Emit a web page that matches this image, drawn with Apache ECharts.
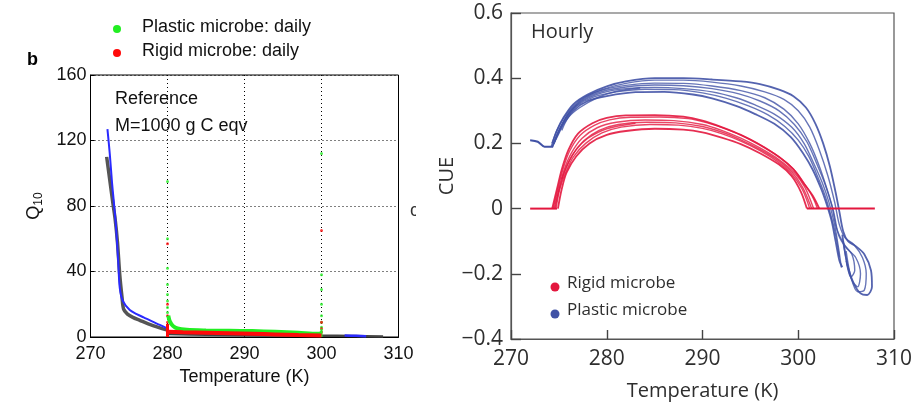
<!DOCTYPE html>
<html>
<head>
<meta charset="utf-8">
<script src="https://cdn.jsdelivr.net/npm/echarts@6/dist/echarts.min.js"></script>
<style>
  html, body { margin: 0; padding: 0; background: #fff; }
  #chart { width: 912px; height: 403px; }
</style>
</head>
<body>
<div id="chart"></div>
<script>
// ---- panel b : Q10 vs temperature (daily) ----
var tempTicks = [270, 280, 290, 300, 310];
var q10Ticks = [0, 40, 80, 120, 160];

var grayQ10 = [[272.1,110],[272.5,96],[272.9,82],[273.2,72],[273.5,58],[273.8,38],[274.1,24],[274.3,17],[274.8,14],[275.5,12],[276.4,10.2],[277.5,8],[279,5.6],[280,4.2]];
var blueQ10 = [[272.2,127],[272.5,112],[272.8,94],[273,84],[273.3,68],[273.6,46],[273.8,30],[274.2,22],[275.1,16.5],[276,14],[276.9,12],[278,9.5],[279,7.4],[279.9,5.4]];
var grayFlat = [[280,1.8],[285,1.4],[290,1.1],[295,0.9],[300,0.8],[304,0.6],[308,0.3]];
var blueFlat = [[303,0.9],[304.5,0.7],[305.8,0.5]];
var greenBand = [[280.1,13],[280.3,9.5],[280.7,6.8],[281.3,5.2],[282.5,4.4],[285,4],[288,3.8],[291,3.6],[294,3.2],[297,2.6],[299.5,2],[300,2.4]];
var redBand = [[280,3.2],[282,2.9],[285,2.6],[288,2.3],[291,2],[294,1.6],[297,1.2],[300,0.9]];
var greenSpikes = [[280,95],[280,60],[280,42],[280,32],[280,26],[280,22],[280,18],[280,15],[300,112],[300,38],[300,29],[300,20],[300,13],[300,9],[300,6]];
var redSpikes = [[280,57],[280,20],[280,13],[280,9],[280,6],[300,65],[300,9],[300,5],[300,3]];
var redStems = [[280,0],[280,8]];
var greenStems = [[300,0],[300,5]];

// ---- panel c : CUE vs temperature (hourly) ----
var cueTicks = [-0.4, -0.2, 0, 0.2, 0.4, 0.6];

var redFlatLeft = [[272,0],[274.8,0]];
var redFlatRight = [[300.9,0],[308,0]];
var redCurveA = [[274.3,0],[274.8,0.06],[275.3,0.12],[276,0.18],[277,0.23],[278.5,0.262],[280,0.278],[282,0.286],[285,0.287],[288,0.282],[290,0.27],[292,0.25],[294,0.226],[296,0.195],[298,0.158],[299.5,0.12],[300.5,0.08],[301.5,0.04],[302.2,0]];
var redCurveA2 = [[274.4,0],[274.9,0.06],[275.4,0.118],[276.1,0.175],[277.2,0.224],[278.7,0.255],[280.3,0.272],[282.5,0.28],[285.5,0.281],[288.5,0.276],[290.5,0.263],[292.5,0.244],[294.5,0.219],[296.5,0.188],[298.3,0.152],[299.7,0.115],[300.7,0.074],[301.6,0.03],[302,0]];
var redCurveB = [[274.5,0],[275,0.06],[275.5,0.115],[276.3,0.17],[277.4,0.215],[279,0.248],[281,0.265],[284,0.272],[287,0.27],[290,0.258],[292,0.24],[294,0.216],[296,0.186],[298,0.15],[299.6,0.11],[300.7,0.065],[301.6,0]];
var redCurveB2 = [[274.6,0],[275.05,0.06],[275.6,0.112],[276.4,0.164],[277.6,0.208],[279.2,0.24],[281.2,0.258],[284.2,0.265],[287.2,0.263],[290,0.252],[292,0.235],[294,0.211],[296,0.182],[297.9,0.148],[299.4,0.11],[300.5,0.063],[301.4,0]];
var redCurveC = [[274.7,0],[275.1,0.06],[275.7,0.11],[276.5,0.158],[277.8,0.2],[279.5,0.232],[281.5,0.25],[284.5,0.258],[287.5,0.256],[290,0.246],[292,0.23],[294,0.207],[296,0.178],[297.8,0.145],[299.2,0.11],[300.4,0.06],[301.2,0]];
var redCurveD = [[274.9,0],[275.3,0.06],[275.8,0.11],[276.8,0.16],[278.2,0.2],[280,0.226],[282,0.238],[285,0.245],[288,0.242],[290,0.234],[292,0.218],[294,0.198],[296,0.17],[298,0.135],[299.3,0.1],[300.3,0.05],[300.9,0]];
var redHook = [[275.3,0.09],[275.8,0.13],[276.8,0.18],[278,0.215],[280,0.245],[283,0.262]];

var blueStart = [[272,0.21],[272.8,0.205],[273.5,0.19],[274.4,0.19]];
var blueCurveA = [[274.3,0.19],[274.8,0.22],[275.5,0.26],[276.5,0.3],[278,0.33],[280,0.345],[283,0.357],[286,0.358],[289,0.35],[291,0.338],[293.5,0.315],[295.5,0.29],[297.5,0.26],[299.2,0.22],[300.5,0.17],[301.5,0.12],[302.4,0.06],[303,0.01],[303.5,-0.04],[303.9,-0.1],[304.3,-0.16],[304.6,-0.18]];
var blueCurveA2 = [[274.35,0.19],[274.9,0.23],[275.7,0.275],[276.9,0.315],[278.6,0.342],[281,0.358],[284,0.366],[287,0.365],[290,0.355],[292.5,0.338],[294.8,0.315],[296.8,0.288],[298.6,0.252],[300,0.21],[301.1,0.16],[302,0.1],[302.8,0.04],[303.4,-0.02],[303.9,-0.08],[304.3,-0.15]];
var blueCurveB = [[274.4,0.195],[275,0.24],[276,0.29],[277.5,0.33],[279.5,0.355],[282,0.368],[285,0.372],[288,0.368],[291,0.358],[293.5,0.34],[295.5,0.318],[297.5,0.29],[299.3,0.25],[300.6,0.2],[301.6,0.14],[302.5,0.08],[303.2,0.02],[303.8,-0.05],[304.2,-0.12],[304.5,-0.18]];
var blueCurveB2 = [[274.45,0.2],[275.1,0.245],[276.1,0.295],[277.6,0.335],[279.6,0.36],[282,0.373],[285,0.379],[288,0.377],[291,0.368],[293.8,0.352],[296,0.33],[298,0.3],[299.6,0.258],[300.9,0.205],[301.9,0.14],[302.8,0.075],[303.5,0.01],[304,-0.06],[304.8,-0.11],[305.6,-0.14],[305.9,-0.19],[305.5,-0.21],[305,-0.16]];
var blueCurveC = [[274.5,0.2],[275.2,0.25],[276.2,0.3],[277.7,0.34],[279.7,0.365],[282,0.378],[285,0.385],[288,0.384],[291,0.376],[294,0.362],[296.5,0.34],[298.5,0.305],[300,0.26],[301.2,0.2],[302.2,0.13],[303,0.06],[303.7,-0.01],[304.2,-0.08],[305,-0.12],[306,-0.15],[306.5,-0.2],[306.2,-0.24],[305.6,-0.22],[305.1,-0.17],[304.7,-0.1]];
var blueCurveD = [[274.2,0.19],[274.8,0.24],[275.8,0.29],[277.3,0.335],[279.5,0.365],[282,0.384],[285,0.394],[288,0.394],[291,0.388],[294,0.376],[296.5,0.358],[298.5,0.335],[300,0.3],[301.2,0.25],[302.2,0.18],[303.1,0.1],[303.8,0.02],[304.3,-0.05],[304.9,-0.09],[305.8,-0.11],[306.7,-0.15],[307.1,-0.2],[306.9,-0.25],[306.2,-0.255],[305.5,-0.21],[305,-0.13]];
var blueCurveE = [[274.3,0.2],[274.8,0.24],[275.5,0.28],[276.5,0.32],[278,0.35],[280,0.375],[282,0.39],[285,0.4],[288,0.4],[291,0.396],[294,0.39],[296,0.382],[298,0.365],[299.5,0.345],[300.8,0.31],[301.8,0.26],[302.6,0.2],[303.3,0.13],[303.9,0.05],[304.3,-0.01],[304.7,-0.07],[305.2,-0.1],[306,-0.115],[306.9,-0.14],[307.6,-0.19],[307.7,-0.24],[307.2,-0.265],[306.5,-0.26],[305.8,-0.23],[305.2,-0.18],[304.8,-0.12],[304.6,-0.08]];
var blueHook = [[275.3,0.24],[276,0.28],[277.2,0.31],[279,0.34],[281,0.36],[283.5,0.37]];

var inkB = '#111';
var inkC = '#2e2e2e';
var red = '#e3173e';
var blue = '#4152a6';

function fmtCue(v) {
    if (Math.abs(v) < 1e-9) return '0';
    return (v < 0 ? '\u2212' : '') + Math.abs(v).toFixed(1);
}

function line(name, data, color, width, xi, opacity) {
    return {
        name: name, type: 'line', data: data, xAxisIndex: xi, yAxisIndex: xi,
        symbol: 'none', smooth: 0.3, silent: true,
        lineStyle: { color: color, width: width, opacity: opacity == null ? 1 : opacity }
    };
}
function dots(name, data, color, size) {
    return {
        name: name, type: 'scatter', data: data, xAxisIndex: 0, yAxisIndex: 0,
        symbolSize: size, silent: true, itemStyle: { color: color }
    };
}

var chart = echarts.init(document.getElementById('chart'));

var option = {
    backgroundColor: '#fff',
    animation: false,
    grid: [
        { left: 90.5, right: 513.5, top: 75, bottom: 66, outerBoundsMode: 'none', show: true, borderColor: '#000', borderWidth: 1 },
        { left: 511, right: 18, top: 13, bottom: 64, outerBoundsMode: 'none', show: true, borderColor: '#555', borderWidth: 1.2 }
    ],
    xAxis: [{
        gridIndex: 0, type: 'value', min: 270, max: 310, interval: 10,
        name: 'Temperature (K)', nameLocation: 'middle', nameGap: 28,
        nameTextStyle: { color: inkB, fontSize: 18, fontFamily: 'Liberation Sans' },
        axisLine: { onZero: false, lineStyle: { color: '#000' } },
        axisTick: { show: true, inside: true, length: 4, lineStyle: { color: '#000' } },
        axisLabel: { color: inkB, fontSize: 18, fontFamily: 'Liberation Sans', margin: 8 },
        splitLine: { show: true, lineStyle: { color: '#000', type: [1, 3], width: 1 } }
    }, {
        gridIndex: 1, type: 'value', min: 270, max: 310, interval: 10,
        name: 'Temperature (K)', nameLocation: 'middle', nameGap: 42,
        nameTextStyle: { color: inkC, fontSize: 20, fontFamily: 'Open Sans' },
        axisLine: { onZero: false, lineStyle: { color: '#555', width: 1.2 } },
        axisTick: { show: true, inside: true, length: 9, lineStyle: { color: '#444', width: 1.4 } },
        axisLabel: { color: inkC, fontSize: 21, fontFamily: 'Open Sans', margin: 10 },
        splitLine: { show: false }
    }],
    yAxis: [{
        gridIndex: 0, type: 'value', min: 0, max: 160, interval: 40,
        name: 'Q{s|10}', nameLocation: 'middle', nameGap: 46, nameRotate: 90,
        nameTextStyle: {
            color: inkB, fontSize: 18, fontFamily: 'Liberation Sans',
            rich: { s: { fontSize: 12, fontFamily: 'Liberation Sans', color: inkB, padding: [9, 0, 0, 0] } }
        },
        axisLine: { onZero: false, lineStyle: { color: '#000' } },
        axisTick: { show: true, inside: true, length: 4, lineStyle: { color: '#000' } },
        axisLabel: { color: inkB, fontSize: 18, fontFamily: 'Liberation Sans', margin: 4 },
        splitLine: { show: true, lineStyle: { color: '#000', type: [1, 3], width: 1 } }
    }, {
        gridIndex: 1, type: 'value', min: -0.4, max: 0.6, interval: 0.2,
        name: 'CUE', nameLocation: 'middle', nameGap: 52, nameRotate: 90,
        nameTextStyle: { color: inkC, fontSize: 20, fontFamily: 'Open Sans' },
        axisLine: { onZero: false, lineStyle: { color: '#555', width: 1.2 } },
        axisTick: { show: true, inside: true, length: 10, lineStyle: { color: '#444', width: 1.4 } },
        axisLabel: { color: inkC, fontSize: 21, fontFamily: 'Open Sans', margin: 8, formatter: fmtCue },
        splitLine: { show: false }
    }],
    series: [
        line('gray curve', grayQ10, '#555', 3.5, 0),
        line('blue curve', blueQ10, '#2a2aff', 2, 0),
        line('gray flat', grayFlat, '#444', 2.5, 0),
        line('blue flat', blueFlat, '#2a2aff', 2.5, 0),
        line('Plastic microbe: daily', greenBand, '#22ee22', 4, 0),
        line('green stem', greenStems, '#22ee22', 2, 0),
        line('Rigid microbe: daily', redBand, '#ff0a0a', 4, 0),
        line('red stem', redStems, '#ff0a0a', 3, 0),
        dots('green spikes', greenSpikes, '#22ee22', 3),
        dots('red spikes', redSpikes, '#ff0a0a', 3),

        line('blue start', blueStart, blue, 2, 1),
        line('blue A', blueCurveA, blue, 1.8, 1, 0.9),
        line('blue A2', blueCurveA2, blue, 1.4, 1, 0.8),
        line('blue B', blueCurveB, blue, 1.4, 1, 0.8),
        line('blue B2', blueCurveB2, blue, 1.4, 1, 0.8),
        line('blue C', blueCurveC, blue, 1.4, 1, 0.8),
        line('blue D', blueCurveD, blue, 1.4, 1, 0.8),
        line('blue E', blueCurveE, blue, 1.8, 1, 0.9),
        line('blue hook', blueHook, blue, 1.4, 1, 0.8),
        line('red flat left', redFlatLeft, red, 2, 1),
        line('red flat right', redFlatRight, red, 2, 1),
        line('red A', redCurveA, red, 1.8, 1, 0.9),
        line('red A2', redCurveA2, red, 1.4, 1, 0.8),
        line('red B', redCurveB, red, 1.4, 1, 0.8),
        line('red B2', redCurveB2, red, 1.4, 1, 0.8),
        line('red C', redCurveC, red, 1.4, 1, 0.8),
        line('red D', redCurveD, red, 1.8, 1, 0.9),
        line('red hook', redHook, red, 1.4, 1, 0.8)
    ],
    graphic: [
        { type: 'text', left: 27, top: 51, style: { text: 'b', font: 'bold 18px "Liberation Sans"', fill: '#000' } },
        { type: 'circle', shape: { cx: 117, cy: 29, r: 4 }, style: { fill: '#22ee22' } },
        { type: 'text', left: 142, top: 18, style: { text: 'Plastic microbe: daily', font: '18px "Liberation Sans"', fill: inkB } },
        { type: 'circle', shape: { cx: 117, cy: 53, r: 4 }, style: { fill: '#ff0a0a' } },
        { type: 'text', left: 142, top: 42, style: { text: 'Rigid microbe: daily', font: '18px "Liberation Sans"', fill: inkB } },
        { type: 'text', left: 115, top: 90, style: { text: 'Reference', font: '18px "Liberation Sans"', fill: inkB } },
        { type: 'text', left: 115, top: 117, style: { text: 'M=1000 g C eqv', font: '18px "Liberation Sans"', fill: inkB } },
        { type: 'text', left: 410, top: 202, style: { text: 'c', font: '18px "Liberation Sans"', fill: '#333' } },
        { type: 'rect', shape: { x: 416, y: 198, width: 14, height: 28 }, style: { fill: '#fff' } },
        { type: 'text', left: 531, top: 22, style: { text: 'Hourly', font: '20px "Open Sans"', fill: inkC } },
        { type: 'circle', shape: { cx: 555, cy: 287, r: 4.5 }, style: { fill: red } },
        { type: 'text', left: 567, top: 275, style: { text: 'Rigid microbe', font: '17px "Open Sans"', fill: inkC } },
        { type: 'circle', shape: { cx: 555, cy: 314, r: 4.5 }, style: { fill: blue } },
        { type: 'text', left: 567, top: 302, style: { text: 'Plastic microbe', font: '17px "Open Sans"', fill: inkC } }
    ]
};

chart.setOption(option);
</script>
</body>
</html>
